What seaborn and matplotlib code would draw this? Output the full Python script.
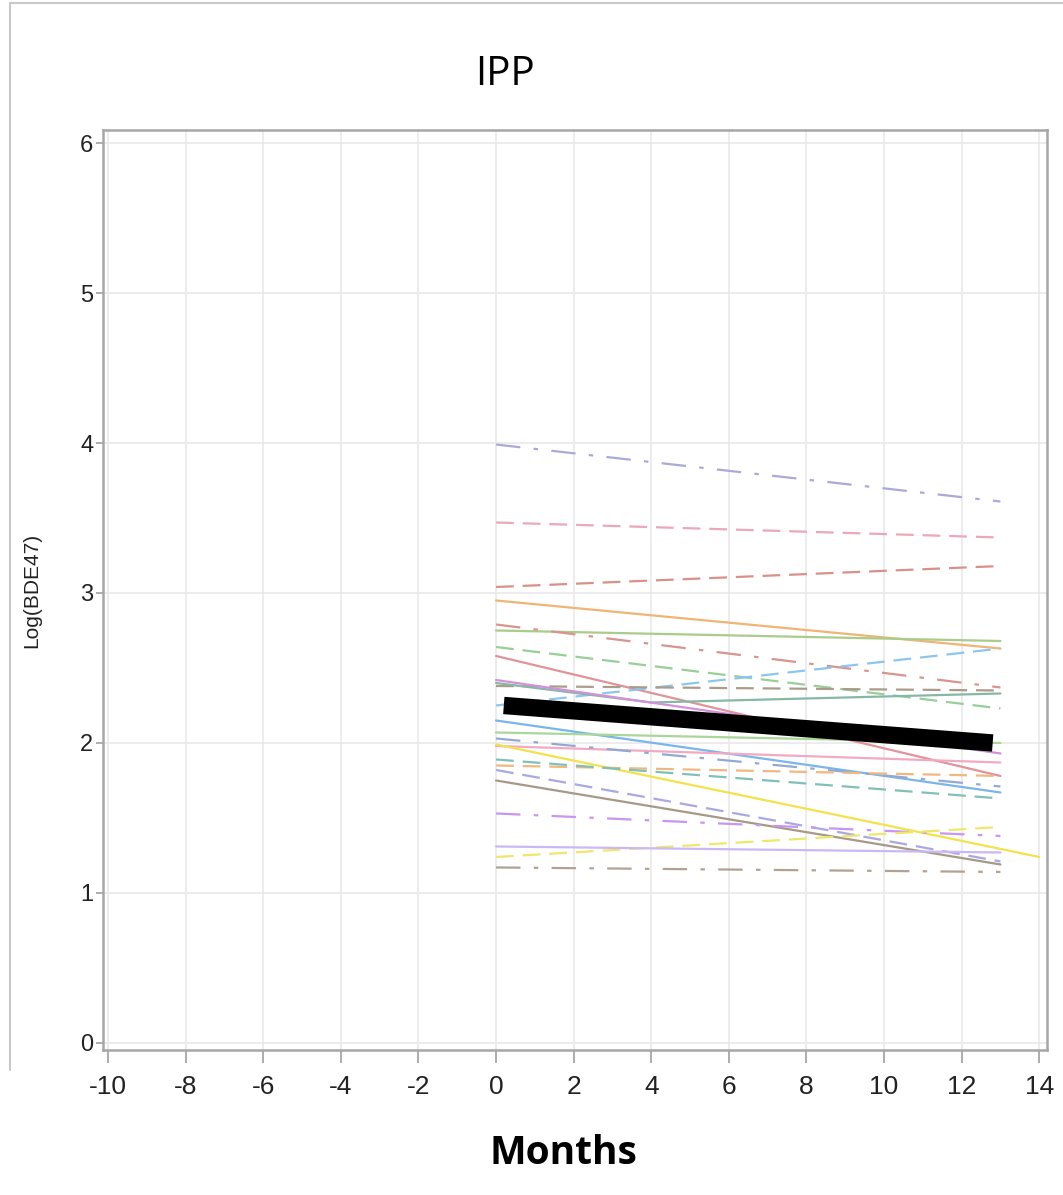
import matplotlib
matplotlib.use("Agg")
import matplotlib.pyplot as plt
import matplotlib.lines as mlines
import seaborn as sns
import pandas as pd

# ---------------- data ----------------
subject_ids = [f"S{i:02d}" for i in range(1, 26)]
subject_months = [
    [0, 13], [0, 13], [0, 13], [0, 13], [0, 13],
    [0, 13], [0, 13], [0, 13], [0, 13], [0, 13],
    [0, 4, 13], [0, 13], [0, 13], [0, 13], [0, 13],
    [0, 13], [0, 14], [0, 13], [0, 13], [0, 13],
    [0, 13], [0, 13], [0, 13], [0, 13], [0, 13],
]
subject_values = [
    [3.99, 3.61], [3.47, 3.37], [3.04, 3.18], [2.95, 2.63], [2.75, 2.68],
    [2.79, 2.37], [2.64, 2.23], [2.58, 1.78], [2.25, 2.63], [2.38, 2.35],
    [2.40, 2.27, 2.33], [2.42, 1.93], [2.15, 1.67], [2.07, 2.00], [1.98, 1.87],
    [2.03, 1.71], [1.99, 1.24], [1.85, 1.78], [1.89, 1.63], [1.82, 1.21],
    [1.75, 1.19], [1.53, 1.38], [1.24, 1.44], [1.31, 1.27], [1.17, 1.14],
]
mean_months = [0.2, 12.8]
mean_values = [2.25, 2.00]

x_ticks = list(range(-10, 15, 2))
y_ticks = list(range(0, 7))

# ---------------- styles ----------------
subject_colors = [
    "#a9aad8", "#eaa8b8", "#d99088", "#f0b474", "#a9cc8a",
    "#d9948e", "#98cf98", "#e0939a", "#8cc6f0", "#ab9b8b",
    "#86b8a6", "#d291d8", "#7ab6ea", "#a9d699", "#f2aac2",
    "#93a9d2", "#f2e24c", "#f0b880", "#80c0b6", "#a9a8e2",
    "#a89888", "#c896f0", "#f0e66c", "#cab8f6", "#b2a292",
]
DASH = (8, 4)
DASHDOT = (11, 6, 2, 6)
subject_dashes = [
    DASHDOT, DASH, DASH, "", "",
    DASHDOT, DASH, "", DASH, DASH,
    "", "", "", "", "",
    DASHDOT, "", DASH, DASH, DASH,
    "", DASHDOT, DASH, "", DASHDOT,
]

rows = []
for sid, ms, vs in zip(subject_ids, subject_months, subject_values):
    for m, v in zip(ms, vs):
        rows.append({"subject": sid, "Months": m, "value": v})
df = pd.DataFrame(rows)
mean_df = pd.DataFrame({"Months": mean_months, "value": mean_values})

# ---------------- figure ----------------
sns.set_theme(style="whitegrid")
plt.rcParams["font.family"] = ["Liberation Sans", "DejaVu Sans"]

W, H = 1063, 1195
fig = plt.figure(figsize=(W / 100, H / 100), dpi=100)
ax = fig.add_axes([103 / W, 1 - 1050 / H, (1047 - 103) / W, (1050 - 130) / H])

sns.lineplot(
    data=df, x="Months", y="value", hue="subject", style="subject",
    palette=dict(zip(subject_ids, subject_colors)),
    dashes=dict(zip(subject_ids, subject_dashes)),
    linewidth=1.6, legend=False, ax=ax, estimator=None, sort=True,
)
sns.lineplot(
    data=mean_df, x="Months", y="value", color="black", linewidth=12.5,
    legend=False, ax=ax, estimator=None,
)
for ln in ax.get_lines()[-1:]:
    ln.set_solid_capstyle("butt")

ax.set_xlim(-10.13, 14.2)
ax.set_ylim(-0.047, 6.087)
ax.set_xticks(x_ticks)
ax.set_yticks(y_ticks)
ax.set_xticklabels([str(t) for t in x_ticks])
ax.set_yticklabels([str(t) for t in y_ticks])

ax.grid(True, color="#e9e9e9", linewidth=1.2)
for s in ax.spines.values():
    s.set_visible(True)
    s.set_color("#a6a6a6")
    s.set_linewidth(1.8)

ax.tick_params(axis="x", which="major", direction="out", length=9, width=1.2,
               color="#a0a0a0", labelsize=19, pad=9, labelcolor="#222222",
               bottom=True)
ax.tick_params(axis="y", which="major", direction="out", length=5, width=1.2,
               color="#a0a0a0", labelsize=17, pad=2, labelcolor="#222222",
               left=True)

ax.set_xlabel("Months", fontsize=28, fontweight="bold",
              family=["Open Sans", "DejaVu Sans"], color="black")
ax.xaxis.set_label_coords((563 - 103) / (1047 - 103), -(1153 - 1050) / (1050 - 130))
ax.xaxis.label.set_va("center")
ax.set_ylabel("Log(BDE47)", fontsize=15, family=["Liberation Sans", "DejaVu Sans"],
              color="#222222")
ax.yaxis.set_label_coords(-(103 - 41) / (1047 - 103), 0.5)

fig.text(505 / W, 1 - 75 / H, "IPP", fontsize=29, ha="center", va="center",
         family=["Open Sans", "DejaVu Sans"], color="black")

# faint outer border of the original figure
fig.add_artist(mlines.Line2D([10 / W, 10 / W], [1 - 1070 / H, 1 - 3 / H],
                             transform=fig.transFigure, color="#c8c8c8", lw=1.5))
fig.add_artist(mlines.Line2D([10 / W, 1.0], [1 - 3 / H, 1 - 3 / H],
                             transform=fig.transFigure, color="#c8c8c8", lw=1.5))

fig.savefig("out.png", dpi=100, facecolor="white")
